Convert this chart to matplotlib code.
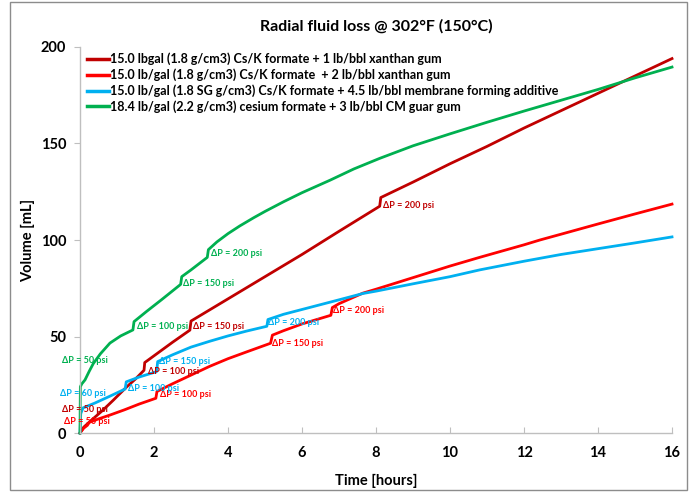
import matplotlib.pyplot as plt

# ---------------------------------------------------------------------
# Data (time in hours, volume in mL)
# repeated times mark the pressure steps
# ---------------------------------------------------------------------
SERIES_NAMES = [
    "15.0 lbgal (1.8 g/cm3) Cs/K formate + 1 lb/bbl xanthan gum",
    "15.0 lb/gal (1.8 g/cm3) Cs/K formate  + 2 lb/bbl xanthan gum",
    "15.0 lb/gal (1.8 SG g/cm3) Cs/K formate + 4.5 lb/bbl membrane forming additive",
    "18.4 lb/gal (2.2 g/cm3) cesium formate + 3 lb/bbl CM guar gum",
]

t_xg1 = [0, 0.1, 0.3, 0.6, 0.9, 1.24, 1.5, 1.73, 1.75, 2.0, 2.5, 2.97, 3.0, 4, 5, 6, 7,
         8.1, 8.13, 9, 10, 11, 12, 13, 14, 14.5, 15, 16]
v_xg1 = [0, 3, 6.5, 11.5, 17, 23.5, 28, 32.5, 36.5, 40, 47, 53.3, 58, 69.5, 81, 92.5, 104.5,
         117.5, 122, 130, 139.5, 148.5, 158, 167, 176, 180.5, 185, 194]

t_xg2 = [0, 0.1, 0.2, 0.25, 0.5, 0.81, 1.2, 1.6, 2.05, 2.08, 2.5, 3.0, 3.5, 4.0, 4.5, 5.15,
         5.2, 5.5, 6.0, 6.78, 6.82, 7.0, 7.65, 8, 9, 10, 10.8, 12, 12.43, 13, 14, 15, 16]
v_xg2 = [0, 2.5, 4, 5.5, 7.3, 9.3, 12, 15, 18, 21.5, 25.5, 30, 34.5, 38.5, 42, 46.5,
         50.7, 53, 56.5, 61, 65, 67, 72.5, 74.5, 80.5, 86.5, 91, 97.5, 100, 103, 108.3, 113.5, 118.6]

t_mfa = [0, 0.02, 0.08, 0.4, 0.8, 1.22, 1.25, 1.6, 2.07, 2.1, 2.5, 3.0, 3.5, 4.0, 4.5, 5.05,
         5.08, 5.5, 6, 7, 7.65, 8, 9, 10, 10.8, 12, 13, 14, 15, 16]
v_mfa = [0, 10, 13, 15.5, 19, 22.8, 26.5, 29, 31.8, 37, 40.5, 44.5, 47.5, 50.3, 52.8, 55.3,
         58.8, 61.5, 64, 69, 72.3, 73.5, 77.3, 81, 84.5, 89, 92.5, 95.5, 98.5, 101.6]

t_guar = [0, 0.01, 0.05, 0.135, 0.25, 0.36, 0.55, 0.81, 1.1, 1.43, 1.46, 1.8, 2.2, 2.72,
          2.75, 3.0, 3.44, 3.47, 3.7, 4.0, 4.32, 4.7, 5, 5.5, 6, 6.76, 7.4, 8.1, 9, 10,
          11, 12, 13, 14, 15, 16]
v_guar = [0, 24, 25.5, 27.5, 32, 36, 41, 46.6, 50.3, 53.4, 57.7, 63, 69, 77,
          81, 84.5, 91, 95, 99, 103.3, 107.3, 111.6, 114.8, 119.8, 124.5, 131, 136.8, 142.3,
          148.8, 155, 161, 166.8, 172.4, 178, 184, 189.6]

COLORS = ["#C00000", "#FF0000", "#00B0F0", "#00B050"]

# pressure-step labels: (text, time, volume, series index)
STEP_LABELS = [
    ("ΔP = 50 psi", -0.49, 12, 0),
    ("ΔP = 100 psi", 1.84, 31.8, 0),
    ("ΔP = 150 psi", 3.05, 55, 0),
    ("ΔP = 200 psi", 8.19, 118, 0),
    ("ΔP = 50 psi", -0.43, 5.7, 1),
    ("ΔP = 100 psi", 2.16, 19.7, 1),
    ("ΔP = 150 psi", 5.19, 46.6, 1),
    ("ΔP = 200 psi", 6.84, 63.7, 1),
    ("ΔP = 60 psi", -0.54, 20.7, 2),
    ("ΔP = 100 psi", 1.3, 23.3, 2),
    ("ΔP = 150 psi", 2.14, 36.8, 2),
    ("ΔP = 200 psi", 5.08, 57, 2),
    ("ΔP = 50 psi", -0.49, 37.8, 3),
    ("ΔP = 100 psi", 1.54, 55.4, 3),
    ("ΔP = 150 psi", 2.78, 77.7, 3),
    ("ΔP = 200 psi", 3.54, 93, 3),
]

X_TICKS = [0, 2, 4, 6, 8, 10, 12, 14, 16]
Y_TICKS = [0, 50, 100, 150, 200]

plt.rcParams['font.family'] = ['Lato', 'DejaVu Sans']

fig = plt.figure(figsize=(6.93, 4.94), dpi=100)
ax = fig.add_axes([80 / 693, 1 - 433 / 494, 592 / 693, 386 / 494])

# figure frame
fig.patches.append(plt.Rectangle((10 / 693, 4 / 494), 677 / 693, 488 / 494,
                                 transform=fig.transFigure, fill=False,
                                 edgecolor="#8c8c8c", linewidth=1.0))

curves = [(t_xg1, v_xg1), (t_xg2, v_xg2), (t_mfa, v_mfa), (t_guar, v_guar)]
for (t, v), name, c in zip(curves, SERIES_NAMES, COLORS):
    ax.plot(t, v, color=c, linewidth=2.0, label=name, solid_joinstyle='round',
            clip_on=False)

for text, tx, ty, idx in STEP_LABELS:
    ax.text(tx, ty, text, color=COLORS[idx], fontsize=6.5, fontweight='bold',
            ha='left', va='center', clip_on=False)

ax.set_xlim(0, 16)
ax.set_ylim(0, 200)
ax.set_xticks(X_TICKS)
ax.set_yticks(Y_TICKS)

for side in ['top', 'right']:
    ax.spines[side].set_visible(False)
for side in ['left', 'bottom']:
    ax.spines[side].set_color("#bfbfbf")
    ax.spines[side].set_linewidth(1.0)

ax.tick_params(axis='x', direction='in', length=4, color="#bfbfbf", pad=9,
               labelsize=10.5)
ax.tick_params(axis='y', direction='out', length=4, color="#bfbfbf", pad=6,
               labelsize=10.5)
for lbl in ax.get_xticklabels() + ax.get_yticklabels():
    lbl.set_fontweight('bold')

ax.set_xlabel("Time [hours]", fontsize=10.5, fontweight='bold', labelpad=10)
ax.set_ylabel("Volume [mL]", fontsize=10.5, fontweight='bold', labelpad=4)
ax.set_title("Radial fluid loss @ 302°F (150°C)", fontsize=11.5, fontweight='bold', pad=12)

leg = ax.legend(loc='upper left', bbox_to_anchor=(0.012, 0.985), frameon=False,
                fontsize=9, handlelength=1.75, handletextpad=0.1,
                labelspacing=0.25, borderpad=0, borderaxespad=0)
for txt in leg.get_texts():
    txt.set_fontweight('bold')
for line in leg.get_lines():
    line.set_linewidth(2.5)

fig.savefig("out.png", dpi=100)
